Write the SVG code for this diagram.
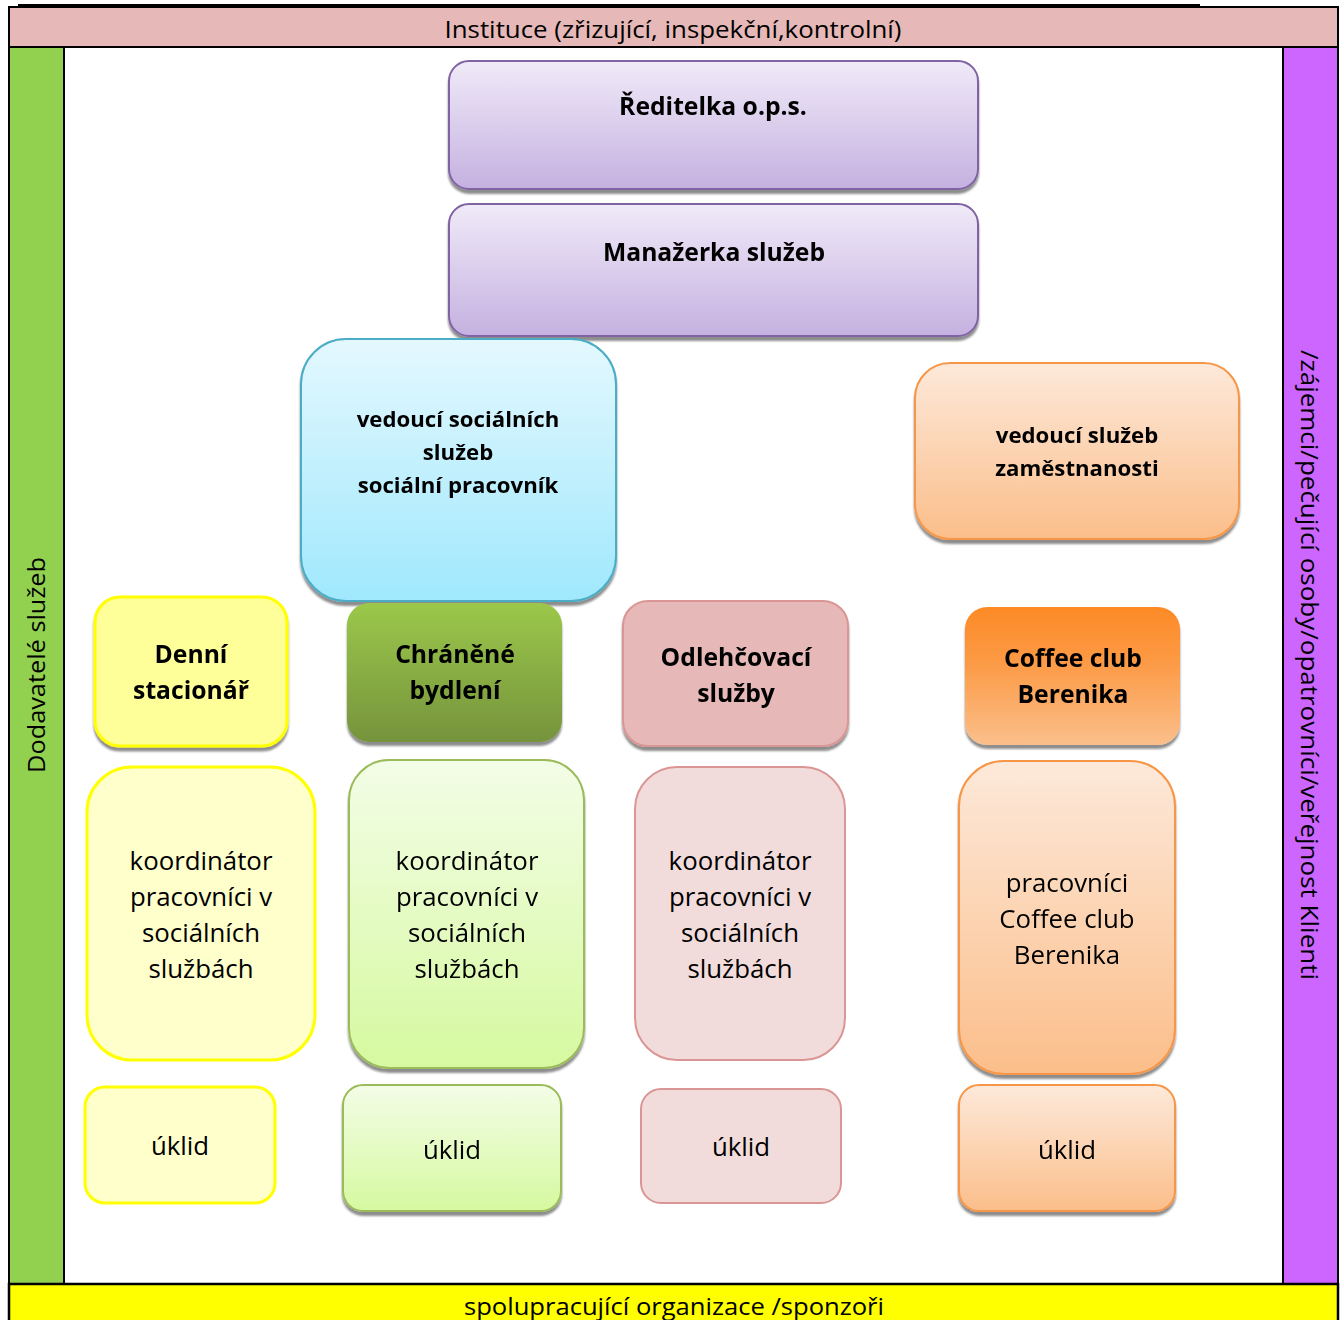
<svg xmlns="http://www.w3.org/2000/svg" width="1341" height="1320" viewBox="0 0 1341 1320">
<defs>
<style>
text{font-family:"Open Sans","Noto Sans",sans-serif;fill:#000;text-anchor:middle}
.b{font-weight:bold;font-size:24.7px}
.s{font-size:22.2px}
.r{font-size:25.8px}
.band{font-size:23px}
.sh{filter:url(#shadow)}
</style>
<filter id="shadow" x="-10%" y="-10%" width="120%" height="125%">
<feGaussianBlur in="SourceAlpha" stdDeviation="1.2"/>
<feOffset dx="0" dy="4" result="o"/>
<feComponentTransfer><feFuncA type="linear" slope="0.45"/></feComponentTransfer>
<feMerge><feMergeNode/><feMergeNode in="SourceGraphic"/></feMerge>
</filter>
<linearGradient id="gPurple" x1="0" y1="0" x2="0" y2="1"><stop offset="0" stop-color="#f0eaf8"/><stop offset="1" stop-color="#c5b1e0"/></linearGradient>
<linearGradient id="gBlue" x1="0" y1="0" x2="0" y2="1"><stop offset="0" stop-color="#e4f8fe"/><stop offset="1" stop-color="#a0e8fd"/></linearGradient>
<linearGradient id="gOrangeL" x1="0" y1="0" x2="0" y2="1"><stop offset="0" stop-color="#fde9da"/><stop offset="1" stop-color="#fbbe8a"/></linearGradient>
<linearGradient id="gOrange" x1="0" y1="0" x2="0" y2="1"><stop offset="0" stop-color="#fd8a26"/><stop offset="0.4" stop-color="#fc9a45"/><stop offset="1" stop-color="#fbbf8b"/></linearGradient>
<linearGradient id="gGreenD" x1="0" y1="0" x2="0" y2="1"><stop offset="0" stop-color="#9bc84b"/><stop offset="1" stop-color="#76933c"/></linearGradient>
<linearGradient id="gGreenL" x1="0" y1="0" x2="0" y2="1"><stop offset="0" stop-color="#f3fde7"/><stop offset="1" stop-color="#d6f9a0"/></linearGradient>
</defs>

<g id="frame">
<line x1="18" y1="5" x2="1200" y2="5" stroke="#000" stroke-width="2"/>
<rect x="9" y="7" width="1329" height="1313" fill="#fff" stroke="#000" stroke-width="2"/>
<rect id="band-top" x="9" y="7" width="1329" height="40" fill="#e6b8b7" stroke="#000" stroke-width="2"/>
<rect id="band-left" x="9" y="47" width="55" height="1237" fill="#92d050" stroke="#000" stroke-width="2"/>
<rect id="band-right" x="1283" y="47" width="55" height="1237" fill="#cc66ff" stroke="#000" stroke-width="2"/>
<rect id="band-bottom" x="9" y="1284" width="1329" height="40" fill="#ffff00" stroke="#000" stroke-width="2.5"/>
<text class="band" x="673" y="38" textLength="457" lengthAdjust="spacingAndGlyphs">Instituce (zřizující, inspekční,kontrolní)</text>
<text class="band" x="674" y="1315" textLength="420" lengthAdjust="spacingAndGlyphs">spolupracující organizace /sponzoři</text>
<text class="band" transform="translate(45,665) rotate(-90)" textLength="216" lengthAdjust="spacingAndGlyphs">Dodavatelé služeb</text>
<text class="band" transform="translate(1301,665) rotate(90)" textLength="630" lengthAdjust="spacingAndGlyphs">/zájemci/pečující osoby/opatrovníci/veřejnost Klienti</text>
</g>

<g id="connectors"></g>

<g id="reditelka" class="sh">
<rect x="449" y="61" width="529" height="128" rx="20" fill="url(#gPurple)" stroke="#8064a2" stroke-width="2"/>
<text class="b" x="713" y="115">Ředitelka o.p.s.</text>
</g>
<g id="manazerka" class="sh">
<rect x="449" y="204" width="529" height="132" rx="20" fill="url(#gPurple)" stroke="#8064a2" stroke-width="2"/>
<text class="b" x="714" y="261">Manažerka služeb</text>
</g>
<g id="vedouci-soc" class="sh">
<rect x="301" y="339" width="315" height="262" rx="45" fill="url(#gBlue)" stroke="#4bacc6" stroke-width="2"/>
<text class="b s" x="458" y="427">vedoucí sociálních</text>
<text class="b s" x="458" y="460">služeb</text>
<text class="b s" x="458" y="493">sociální pracovník</text>
</g>
<g id="vedouci-zam" class="sh">
<rect x="915" y="363" width="324" height="176" rx="35" fill="url(#gOrangeL)" stroke="#f79646" stroke-width="2"/>
<text class="b s" x="1077" y="443">vedoucí služeb</text>
<text class="b s" x="1077" y="476">zaměstnanosti</text>
</g>

<g id="denni" class="sh">
<rect x="95" y="597" width="192" height="149" rx="25" fill="#ffff99" stroke="#ffff00" stroke-width="3"/>
<text class="b" x="191" y="663">Denní</text>
<text class="b" x="191" y="699">stacionář</text>
</g>
<g id="chranene" class="sh">
<rect x="347" y="603" width="215" height="139" rx="22" fill="url(#gGreenD)"/>
<text class="b" x="455" y="663">Chráněné</text>
<text class="b" x="455" y="699">bydlení</text>
</g>
<g id="odlehcovaci" class="sh">
<rect x="623" y="601" width="225" height="145" rx="25" fill="#e6b9b8" stroke="#d99694" stroke-width="2"/>
<text class="b" x="736" y="666">Odlehčovací</text>
<text class="b" x="736" y="702">služby</text>
</g>
<g id="coffee" class="sh">
<rect x="965" y="607" width="215" height="138" rx="22" fill="url(#gOrange)"/>
<text class="b" x="1073" y="667">Coffee club</text>
<text class="b" x="1073" y="703">Berenika</text>
</g>

<g id="koord-denni">
<rect x="87" y="767" width="228" height="293" rx="45" fill="#ffffcc" stroke="#ffff00" stroke-width="3"/>
<text class="r" x="201" y="870">koordinátor</text>
<text class="r" x="201" y="906">pracovníci v</text>
<text class="r" x="201" y="942">sociálních</text>
<text class="r" x="201" y="978">službách</text>
</g>
<g id="koord-chranene" class="sh">
<rect x="349" y="760" width="235" height="308" rx="40" fill="url(#gGreenL)" stroke="#9bbb59" stroke-width="2"/>
<text class="r" x="467" y="870">koordinátor</text>
<text class="r" x="467" y="906">pracovníci v</text>
<text class="r" x="467" y="942">sociálních</text>
<text class="r" x="467" y="978">službách</text>
</g>
<g id="koord-odlehcovaci">
<rect x="635" y="767" width="210" height="293" rx="42" fill="#f2dcdb" stroke="#d99694" stroke-width="2"/>
<text class="r" x="740" y="870">koordinátor</text>
<text class="r" x="740" y="906">pracovníci v</text>
<text class="r" x="740" y="942">sociálních</text>
<text class="r" x="740" y="978">službách</text>
</g>
<g id="pracovnici-coffee" class="sh">
<rect x="959" y="761" width="216" height="313" rx="45" fill="url(#gOrangeL)" stroke="#f79646" stroke-width="2"/>
<text class="r" x="1067" y="892">pracovníci</text>
<text class="r" x="1067" y="928">Coffee club</text>
<text class="r" x="1067" y="964">Berenika</text>
</g>

<g id="uklid-denni">
<rect x="85" y="1087" width="190" height="116" rx="20" fill="#ffffcc" stroke="#ffff00" stroke-width="3"/>
<text class="r" x="180" y="1155">úklid</text>
</g>
<g id="uklid-chranene" class="sh">
<rect x="343" y="1085" width="218" height="126" rx="20" fill="url(#gGreenL)" stroke="#9bbb59" stroke-width="2"/>
<text class="r" x="452" y="1159">úklid</text>
</g>
<g id="uklid-odlehcovaci">
<rect x="641" y="1089" width="200" height="114" rx="20" fill="#f2dcdb" stroke="#d99694" stroke-width="2"/>
<text class="r" x="741" y="1156">úklid</text>
</g>
<g id="uklid-coffee" class="sh">
<rect x="959" y="1085" width="216" height="126" rx="20" fill="url(#gOrangeL)" stroke="#f79646" stroke-width="2"/>
<text class="r" x="1067" y="1159">úklid</text>
</g>
</svg>
